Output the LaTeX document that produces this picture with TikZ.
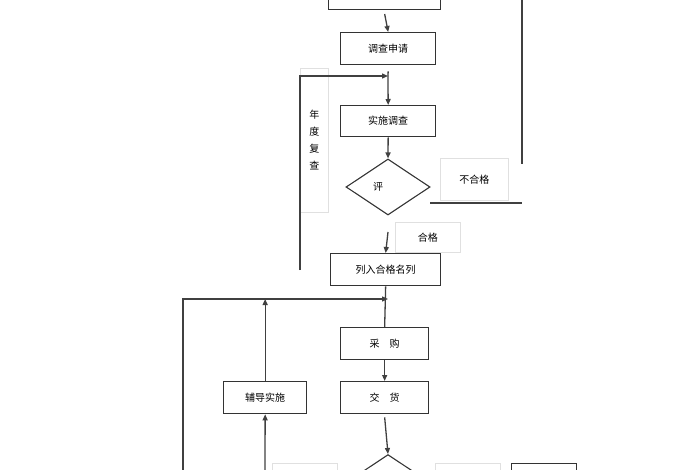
\documentclass[tikz,border=0pt]{standalone}
\usepackage{fontspec}
\newfontfamily\cjk{Noto Sans CJK SC}
\usetikzlibrary{shapes.geometric,arrows.meta}
\begin{document}
\begin{tikzpicture}[x=1pt,y=-1pt,
  box/.style={draw=black!80,line width=1.3pt,inner sep=0pt,font=\cjk\fontsize{10}{12}\selectfont},
  lbl/.style={draw=black!12,line width=0.8pt,inner sep=0pt,font=\cjk\fontsize{10}{12}\selectfont},
  dia/.style={draw=black!80,line width=1.1pt,diamond,aspect=1.5,inner sep=0pt,minimum width=84,minimum height=56,font=\cjk\fontsize{10}{12}\selectfont},
  ln/.style={draw=black!75,line width=1.3pt},
  ar/.style={ln,-{Triangle[length=6pt,width=5pt]}}]
\useasboundingbox (0,0) rectangle (700,470);
\clip (0,0) rectangle (700,470);
\node[box,minimum width=112,minimum height=15,anchor=south west] (top) at (328,10) {};
\node[box,minimum width=95,minimum height=32,anchor=north west] (sq) at (340,32) {调查申请};
\node[box,minimum width=95,minimum height=31,anchor=north west] (ss) at (340,105) {实施调查};
\node[dia] (ev) at (388,187) {};
\node[font=\cjk\fontsize{10}{12}\selectfont] at (378,187) {评};
\node[lbl,minimum width=68,minimum height=42,anchor=north west] (bhg) at (440,158) {不合格};
\node[lbl,minimum width=65,minimum height=30,anchor=north west] (hg) at (395,222) {合格};
\node[box,minimum width=110,minimum height=32,anchor=north west] (lr) at (330,253) {列入合格名列};
\node[lbl,minimum width=28,minimum height=144,anchor=north west,align=center] (nd) at (300,68) {年\\[5pt]度\\[5pt]复\\[5pt]查};
\node[box,minimum width=88,minimum height=32,anchor=north west] (cg) at (340,327) {采\quad 购};
\node[box,minimum width=88,minimum height=32,anchor=north west] (jh) at (340,381) {交\quad 货};
\node[box,minimum width=83,minimum height=32,anchor=north west] (fd) at (223,381) {辅导实施};
\node[dia,anchor=north] (ev2) at (388,454) {};
\node[lbl,minimum width=65,minimum height=20,anchor=north west] (b1) at (272,463) {};
\node[lbl,minimum width=65,minimum height=20,anchor=north west] (b2) at (435,463) {};
\node[box,minimum width=65,minimum height=20,anchor=north west] (b3) at (511,463) {};
\coordinate (j1) at (388,76);
\coordinate (j2) at (388,299);
\coordinate (l1) at (300,270);
\coordinate (l2) at (183,470);
\coordinate (r1) at (430,203);
\coordinate (r2) at (522,203);
\coordinate (r3) at (522,164);
\coordinate (r4) at (522,0);
\coordinate (f0) at (265,470);
\draw[ar] (top.south) ++(0,4) -- (sq.north);
\draw[ln] (sq.south) ++(0,6) -- (j1);
\draw[ar] (j1) -- (ss.north);
\draw[ar] (l1) |- (j1);
\draw[ar] (ss.south) -- (ev.north);
\draw[ln] (r1) -- (r2);
\draw[ln] (r3) -- (r4);
\draw[ar] (388,232) -- (lr.north);
\draw[ln] (lr.south) -- (cg.north);
\draw[ar] (l2) |- (j2);
\draw[ar] (cg.south) -- (jh.north);
\draw[ar] (jh.south) ++(0,3) -- (ev2.north);
\draw[ar] (f0) -- (fd.south);
\draw[ar] (fd.north) -- (fd.north |- j2);
\end{tikzpicture}
\end{document}
